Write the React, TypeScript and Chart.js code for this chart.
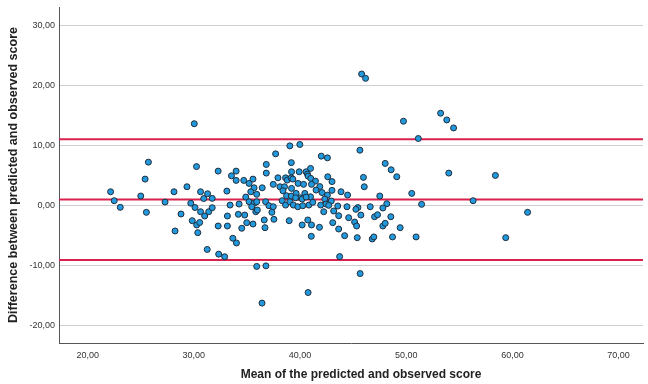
import React, { useEffect, useRef } from "react";
import { Chart, registerables } from "chart.js";

Chart.register(...registerables);

// Mean of predicted and observed score (x)
const meanScores: number[] = [
  22.16, 22.5, 23.07, 25.0, 25.41, 25.72, 25.53, 27.29, 28.13, 28.23,
  28.79, 29.35, 29.71, 29.85, 30.11, 30.27, 30.37, 30.55, 30.04, 30.25,
  30.63, 30.93, 31.29, 30.63, 31.02, 31.4, 31.26, 31.73, 31.73, 32.29,
  32.29, 32.34, 32.9, 39.04, 37.7, 36.82, 36.82, 39.18, 33.98, 33.54,
  33.98, 34.7, 35.57, 35.2, 35.67, 35.36, 35.92, 34.89, 36.44, 33.11,
  37.48, 37.92, 38.11, 38.64, 38.79, 39.16, 38.54, 38.39, 38.73, 39.18,
  38.32, 38.64, 39.04, 39.37, 35.2, 35.67, 35.92, 35.45, 35.83, 35.98,
  36.76, 37.07, 37.48, 37.35, 37.54, 36.63, 36.7, 38.98, 33.41, 34.26,
  33.16, 34.19, 34.79, 34.98, 35.57, 34.51, 33.16, 33.67, 34.01, 35.92,
  36.79, 39.98, 45.64, 42.0, 42.58, 39.2, 39.92, 40.57, 40.99, 40.7,
  40.76, 41.01, 41.45, 42.61, 43.01, 45.97, 46.05, 39.32, 39.82, 40.33,
  41.08, 41.86, 39.2, 40.45, 39.63, 40.05, 40.99, 41.51, 42.07, 42.58,
  43.01, 43.86, 44.48, 39.58, 40.2, 40.57, 42.33, 42.94, 39.79, 40.26,
  40.83, 41.2, 41.95, 42.45, 43.55, 44.42, 45.45, 42.23, 43.17, 43.64,
  44.58, 45.73, 45.14, 45.33, 43.08, 40.73, 40.2, 41.08, 41.83, 43.64,
  44.2, 45.39, 41.06, 43.73, 45.66, 45.8, 46.17, 53.24, 53.82, 49.74,
  51.14, 48.02, 48.58, 49.11, 54.01, 47.51, 50.52, 42.7, 45.26, 46.61,
  48.17, 47.8, 51.45, 47.02, 47.3, 48.55, 47.8, 48.02, 49.43, 46.8,
  46.95, 48.71, 50.93, 54.46, 58.4, 56.3, 61.43, 59.37, 36.42, 40.76,
];

// Difference between predicted and observed score (y)
const scoreDifferences: number[] = [
  2.29, 0.8, -0.3, 1.58, 4.39, 7.21, -1.13, 0.58, 2.29, -4.23,
  -1.41, 3.12, 0.38, -2.52, -0.33, -3.23, -4.51, -2.82, 13.6, 6.47,
  2.29, 1.16, 1.96, -1.03, -1.74, -1.03, -7.3, 1.19, -0.36, 5.72,
  -3.4, -8.08, -8.51, 9.92, 8.59, 6.83, 5.39, 7.13, 5.72, 4.94,
  4.18, 4.18, 4.39, 3.68, 2.95, 2.29, 1.86, 1.41, 2.95, 2.4,
  3.52, 4.61, 3.12, 4.61, 4.23, 4.61, 3.12, 2.45, 1.63, 1.58,
  0.8, 0.08, 0.63, 0.08, 0.63, 0.36, 0.63, -0.2, -1.03, -0.75,
  0.63, -0.03, -0.2, -1.13, -2.29, -2.4, -3.68, -2.52, 0.08, 0.25,
  -1.74, -1.46, -1.58, -2.85, -3.07, -3.78, -3.4, -5.44, -6.22, -10.12,
  -10.03, 10.15, 9.2, 8.21, 7.93, 5.61, 5.61, 5.61, 6.17, 5.22,
  4.89, 4.51, 4.06, 4.78, 3.98, 4.68, 3.12, 4.39, 3.68, 3.52,
  3.52, 3.15, 2.85, 2.02, 2.02, 1.29, 1.46, 2.57, 2.16, 1.74,
  2.52, 2.29, 1.74, 1.29, 1.08, 1.41, 1.08, 0.75, -0.2, -0.03,
  0.08, 0.53, 0.08, 0.25, -0.08, -0.2, -0.33, -1.03, -0.91, -1.69,
  -2.02, -1.58, -2.74, -3.4, -2.85, -2.4, -3.23, -3.23, -3.62, -3.9,
  -5.01, -5.34, -5.11, -8.49, -11.31, 21.86, 21.14, 15.34, 14.23, 14.01,
  11.14, 7.0, 5.94, 4.78, 5.39, 1.58, 2.02, 0.03, -0.63, -0.2,
  0.3, -0.41, 0.2, -1.86, -1.53, -1.86, -3.4, -2.95, -3.68, -5.56,
  -5.22, -5.22, -5.22, 12.9, 5.01, 0.8, -1.13, -5.34, -16.22, -14.46,
];

// Reference lines: upper limit of agreement, mean difference, lower limit
const referenceLevels: number[] = [11.03, 1.0, -9.04];

const xRange: number[] = [17.3, 72.3];
const yRange: number[] = [-22.85, 33.0];
const xTickValues: number[] = [20, 30, 40, 50, 60, 70];
const yTickValues: number[] = [-20, -10, 0, 10, 20, 30];

const xTitle = "Mean of the predicted and observed score";
const yTitle = "Difference between predicted and observed score";

const FONT = "'Liberation Sans', Arial, sans-serif";

const fmt = (v: number) => v.toFixed(2).replace(".", ",");

const xTitlePlugin = {
  id: "xTitlePlugin",
  afterDraw(chart: any) {
    const ctx = chart.ctx as CanvasRenderingContext2D;
    ctx.save();
    ctx.font = `bold 12px ${FONT}`;
    ctx.fillStyle = "#222222";
    ctx.textAlign = "center";
    ctx.textBaseline = "middle";
    ctx.fillText(xTitle, 361, 375);
    ctx.restore();
  },
};

export default function App() {
  const canvasRef = useRef<HTMLCanvasElement | null>(null);

  useEffect(() => {
    document.body.style.margin = "0";
    const canvas = canvasRef.current;
    if (!canvas) return;

    const points = meanScores.map((x, i) => ({ x, y: scoreDifferences[i] }));
    const lineSets = referenceLevels.map((lvl) => ({
      type: "line" as const,
      data: [
        { x: xRange[0], y: lvl },
        { x: xRange[1], y: lvl },
      ],
      borderColor: "#d8224d",
      borderWidth: 2,
      pointRadius: 0,
      fill: false,
      order: 1,
    }));

    const chart = new Chart(canvas, {
      type: "scatter",
      data: {
        datasets: [
          {
            data: points,
            pointRadius: 3,
            pointBorderWidth: 1,
            pointBackgroundColor: "#2399dd",
            pointBorderColor: "#1f2d3b",
            order: 0,
          } as any,
          ...(lineSets as any[]),
        ],
      },
      options: {
        animation: false,
        responsive: false,
        layout: { padding: { top: 7, right: 3, left: 0, bottom: 0 } },
        plugins: {
          legend: { display: false },
          tooltip: { enabled: false },
        },
        scales: {
          x: {
            type: "linear",
            min: xRange[0],
            max: xRange[1],
            afterFit: (scale: any) => {
              scale.height = 41;
              scale.paddingLeft = 0;
              scale.paddingRight = 0;
            },
            afterBuildTicks: (scale: any) => {
              scale.ticks = xTickValues.map((v) => ({ value: v }));
            },
            grid: { display: false, drawTicks: false },
            border: { display: true, color: "#555555", width: 1 },
            ticks: {
              padding: 7,
              color: "#333333",
              font: { family: FONT, size: 9 },
              callback: (v: any) => fmt(Number(v)),
              maxRotation: 0,
              autoSkip: false,
            },
            title: { display: false },
          },
          y: {
            type: "linear",
            min: yRange[0],
            max: yRange[1],
            afterFit: (scale: any) => {
              scale.width = 59;
              scale.paddingTop = 0;
              scale.paddingBottom = 0;
            },
            afterBuildTicks: (scale: any) => {
              scale.ticks = yTickValues.map((v) => ({ value: v }));
            },
            grid: { display: true, drawTicks: false, color: "#cfcfcf", lineWidth: 1 },
            border: { display: true, color: "#555555", width: 1 },
            ticks: {
              padding: 4,
              color: "#333333",
              font: { family: FONT, size: 9 },
              callback: (v: any) => fmt(Number(v)),
              autoSkip: false,
            },
            title: {
              display: true,
              text: yTitle,
              color: "#222222",
              font: { family: FONT, size: 12.5, weight: "bold" },
              padding: { top: 6.5, bottom: 0 },
            },
          },
        },
      } as any,
      plugins: [xTitlePlugin],
    });

    return () => {
      chart.destroy();
    };
  }, []);

  return (
    <div style={{ width: 648, height: 384, background: "#ffffff" }}>
      <canvas ref={canvasRef} width={648} height={384} />
    </div>
  );
}
